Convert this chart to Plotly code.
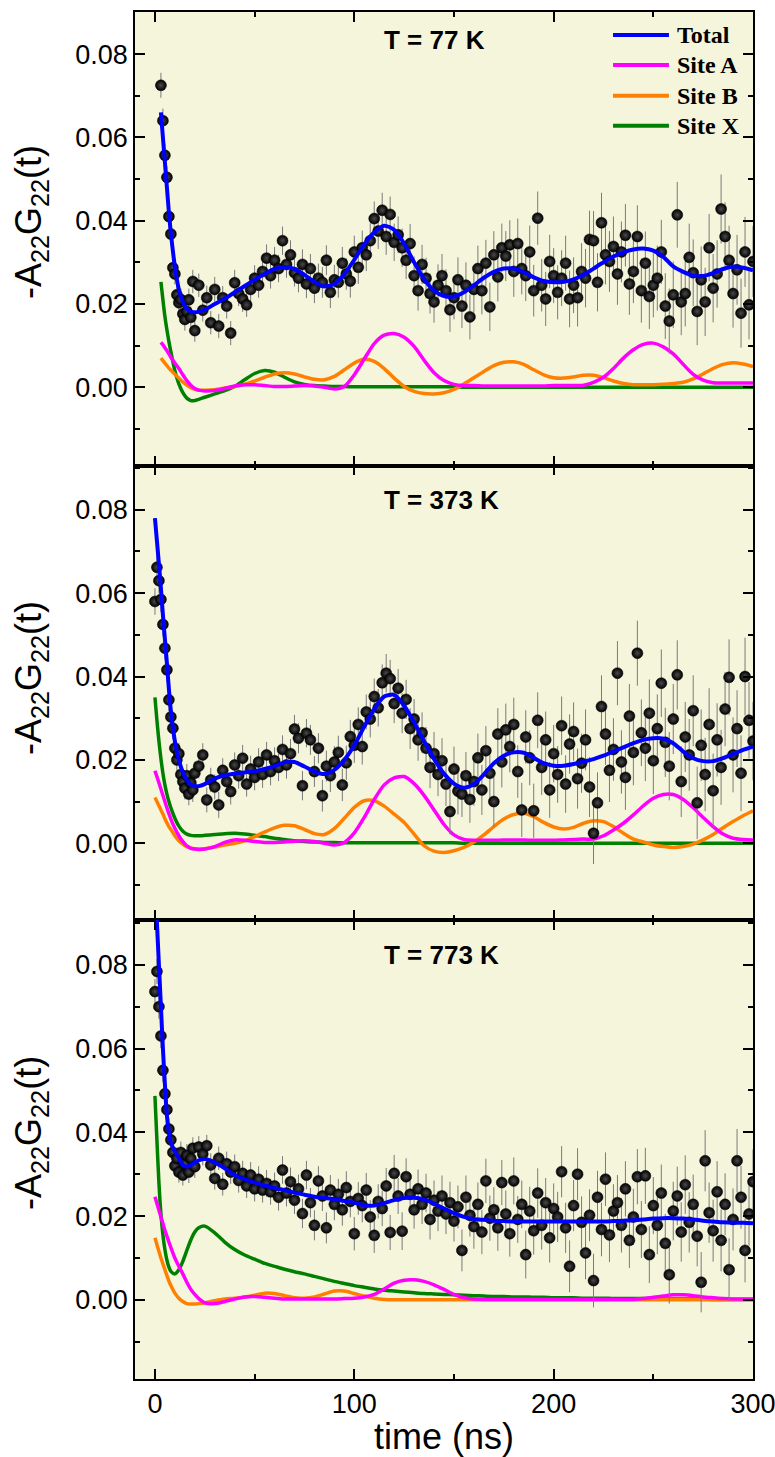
import plotly.graph_objects as go

# ---------------------------------------------------------------------------
# Measurement time grids (ns)
# ---------------------------------------------------------------------------
t_top = list(range(3, 21)) + list(range(22, 301, 2))
t_mid = list(range(0, 21)) + list(range(22, 301, 2))
t_bot = list(range(0, 21)) + list(range(22, 301, 2))

# time grid of the fitted curves (ns)
fit_t = [0, 1, 2, 3, 4, 5, 6, 7, 8, 10, 12, 14, 16, 18, 20, 22, 25] + list(range(30, 301, 5))

# ---------------------------------------------------------------------------
# T = 77 K : measured -A22G22(t) and uncertainties
# ---------------------------------------------------------------------------
y_top = [
    0.0725, 0.0640, 0.0557, 0.0504, 0.0410, 0.0368, 0.0287, 0.0272, 0.0222, 0.0203,
    0.0211, 0.0176, 0.0163, 0.0182, 0.0210, 0.0168, 0.0254, 0.0136,
    0.0245, 0.0185, 0.0215, 0.0155, 0.0235, 0.0147, 0.0215, 0.0195, 0.0130, 0.0251,
    0.0225, 0.0212, 0.0198, 0.0235, 0.0262, 0.0245, 0.0278, 0.0310, 0.0268, 0.0305,
    0.0285, 0.0352, 0.0295, 0.0318, 0.0275, 0.0262, 0.0295, 0.0248, 0.0285, 0.0238,
    0.0262, 0.0252, 0.0305, 0.0228, 0.0258, 0.0252, 0.0298, 0.0272, 0.0255, 0.0325,
    0.0288, 0.0335, 0.0318, 0.0352, 0.0405, 0.0375, 0.0425, 0.0362, 0.0415, 0.0348,
    0.0366, 0.0335, 0.0305, 0.0345, 0.0268, 0.0232, 0.0295, 0.0262, 0.0225, 0.0205,
    0.0245, 0.0268, 0.0232, 0.0186, 0.0215, 0.0258, 0.0195, 0.0245, 0.0169, 0.0235,
    0.0285, 0.0232, 0.0298, 0.0193, 0.0318, 0.0265, 0.0335, 0.0315, 0.0342, 0.0278,
    0.0345, 0.0285, 0.0268, 0.0325, 0.0232, 0.0406, 0.0245, 0.0212, 0.0302, 0.0268,
    0.0228, 0.0262, 0.0298, 0.0212, 0.0245, 0.0215, 0.0278, 0.0262, 0.0355, 0.0352,
    0.0252, 0.0395, 0.0318, 0.0302, 0.0338, 0.0272, 0.0325, 0.0365, 0.0248, 0.0278,
    0.0362, 0.0232, 0.0298, 0.0218, 0.0245, 0.0262, 0.0325, 0.0195, 0.0159, 0.0222,
    0.0414, 0.0205, 0.0225, 0.0312, 0.0275, 0.0182, 0.0258, 0.0205, 0.0335, 0.0238,
    0.0272, 0.0428, 0.0362, 0.0305, 0.0225, 0.0282, 0.0178, 0.0325, 0.0198, 0.0302,
]
e_top = [
    0.0030, 0.0029, 0.0028, 0.0027, 0.0027, 0.0026, 0.0026, 0.0025, 0.0026, 0.0025,
    0.0026, 0.0025, 0.0027, 0.0026, 0.0027, 0.0026, 0.0028, 0.0027,
    0.0028, 0.0027, 0.0029, 0.0028, 0.0030, 0.0029, 0.0028, 0.0030, 0.0029, 0.0031,
    0.0030, 0.0031, 0.0029, 0.0032, 0.0031, 0.0030, 0.0032, 0.0033, 0.0031, 0.0032,
    0.0033, 0.0034, 0.0032, 0.0035, 0.0033, 0.0034, 0.0036, 0.0034, 0.0035, 0.0036,
    0.0035, 0.0037, 0.0036, 0.0038, 0.0036, 0.0037, 0.0039, 0.0038, 0.0040, 0.0039,
    0.0040, 0.0041, 0.0039, 0.0042, 0.0041, 0.0043, 0.0042, 0.0044, 0.0043, 0.0045,
    0.0044, 0.0046, 0.0045, 0.0047, 0.0046, 0.0048, 0.0047, 0.0049, 0.0048, 0.0050,
    0.0050, 0.0052, 0.0051, 0.0053, 0.0052, 0.0054, 0.0053, 0.0055, 0.0054, 0.0056,
    0.0055, 0.0057, 0.0056, 0.0058, 0.0057, 0.0059, 0.0058, 0.0060, 0.0059, 0.0061,
    0.0060, 0.0062, 0.0061, 0.0063, 0.0062, 0.0064, 0.0063, 0.0065, 0.0064, 0.0066,
    0.0065, 0.0067, 0.0066, 0.0068, 0.0067, 0.0069, 0.0068, 0.0070, 0.0069, 0.0071,
    0.0070, 0.0072, 0.0071, 0.0073, 0.0072, 0.0074, 0.0073, 0.0075, 0.0074, 0.0076,
    0.0075, 0.0077, 0.0076, 0.0078, 0.0077, 0.0078, 0.0077, 0.0079, 0.0078, 0.0080,
    0.0079, 0.0080, 0.0079, 0.0081, 0.0080, 0.0081, 0.0080, 0.0082, 0.0081, 0.0082,
    0.0081, 0.0083, 0.0082, 0.0083, 0.0082, 0.0084, 0.0083, 0.0084, 0.0083, 0.0085,
]

# T = 77 K : fitted total and site contributions
fit_top_total = [
    None, None, None, 0.0660, 0.0600, 0.0540, 0.0480, 0.0420, 0.0370, 0.0290,
    0.0235, 0.0205, 0.0189, 0.0182, 0.0180, 0.0181, 0.0186,
    0.0200, 0.0213, 0.0228, 0.0243, 0.0258, 0.0272, 0.0284, 0.0289, 0.0284, 0.0270,
    0.0253, 0.0242, 0.0248, 0.0272, 0.0306, 0.0343, 0.0372, 0.0388, 0.0378, 0.0345,
    0.0300, 0.0260, 0.0232, 0.0219, 0.0218, 0.0228, 0.0245, 0.0263, 0.0277, 0.0285,
    0.0285, 0.0276, 0.0264, 0.0255, 0.0252, 0.0253, 0.0259, 0.0270, 0.0285, 0.0300,
    0.0314, 0.0324, 0.0331, 0.0333, 0.0328, 0.0313, 0.0290, 0.0277, 0.0268, 0.0267,
    0.0274, 0.0284, 0.0290, 0.0287, 0.0281,
]
fit_top_a = [
    None, None, None, 0.0108, 0.0102, 0.0095, 0.0088, 0.0080, 0.0072, 0.0058,
    0.0045, 0.0030, 0.0016, 0.0005, -0.0003, -0.0007, -0.0009,
    -0.0008, -0.0003, 0.0003, 0.0006, 0.0006, 0.0004, 0.0002, 0.0002, 0.0003, 0.0004,
    0.0003, 0.0000, -0.0004, 0.0002, 0.0030, 0.0068, 0.0105, 0.0125, 0.0129, 0.0120,
    0.0098, 0.0065, 0.0035, 0.0016, 0.0007, 0.0004, 0.0004, 0.0003, 0.0003, 0.0003,
    0.0003, 0.0003, 0.0003, 0.0003, 0.0004, 0.0004, 0.0004, 0.0005, 0.0012, 0.0024,
    0.0045, 0.0070, 0.0090, 0.0103, 0.0106, 0.0097, 0.0080, 0.0055, 0.0031, 0.0017,
    0.0011, 0.0010, 0.0010, 0.0010, 0.0010,
]
fit_top_b = [
    None, None, None, 0.0070, 0.0064, 0.0058, 0.0052, 0.0046, 0.0041, 0.0031,
    0.0022, 0.0013, 0.0005, -0.0001, -0.0005, -0.0007, -0.0007,
    -0.0006, -0.0002, 0.0002, 0.0007, 0.0015, 0.0024, 0.0032, 0.0035, 0.0032, 0.0025,
    0.0019, 0.0018, 0.0026, 0.0042, 0.0058, 0.0067, 0.0062, 0.0045, 0.0022, 0.0002,
    -0.0010, -0.0015, -0.0016, -0.0013, -0.0005, 0.0008, 0.0023, 0.0038, 0.0052, 0.0060,
    0.0061, 0.0055, 0.0042, 0.0030, 0.0023, 0.0022, 0.0025, 0.0029, 0.0029, 0.0023,
    0.0015, 0.0009, 0.0006, 0.0006, 0.0006, 0.0007, 0.0009, 0.0012, 0.0020, 0.0032,
    0.0045, 0.0055, 0.0059, 0.0056, 0.0050,
]
fit_top_x = [
    None, None, None, 0.0253, 0.0210, 0.0170, 0.0138, 0.0110, 0.0085, 0.0040,
    0.0008, -0.0013, -0.0026, -0.0032, -0.0032, -0.0029, -0.0024,
    -0.0016, -0.0008, 0.0002, 0.0018, 0.0033, 0.0040, 0.0036, 0.0024, 0.0013, 0.0007,
    0.0004, 0.0003, 0.0002, 0.0002, 0.0001, 0.0001, 0.0001, 0.0001, 0.0001, 0.0001,
    0.0001, 0.0001, 0.0001, 0.0001, 0.0001, 0.0000, 0.0000, 0.0000, 0.0000, 0.0000,
    0.0000, 0.0000, 0.0000, 0.0000, 0.0000, 0.0000, 0.0000, 0.0000, 0.0000, 0.0000,
    0.0000, 0.0000, 0.0000, 0.0000, 0.0000, 0.0000, 0.0000, 0.0000, 0.0000, 0.0000,
    0.0000, 0.0000, 0.0000, 0.0000, 0.0000,
]

# ---------------------------------------------------------------------------
# T = 373 K
# ---------------------------------------------------------------------------
y_mid = [
    0.0580, 0.0662, 0.0630, 0.0585, 0.0525, 0.0468, 0.0416, 0.0344, 0.0303, 0.0276,
    0.0228, 0.0200, 0.0215, 0.0165, 0.0148, 0.0132, 0.0162, 0.0118, 0.0145, 0.0128,
    0.0168,
    0.0185, 0.0212, 0.0104, 0.0152, 0.0135, 0.0092, 0.0175, 0.0148, 0.0124, 0.0188,
    0.0162, 0.0204, 0.0142, 0.0178, 0.0158, 0.0195, 0.0165, 0.0212, 0.0172, 0.0198,
    0.0182, 0.0225, 0.0188, 0.0215, 0.0274, 0.0252, 0.0138, 0.0264, 0.0248, 0.0172,
    0.0228, 0.0114, 0.0185, 0.0162, 0.0195, 0.0218, 0.0140, 0.0193, 0.0256, 0.0235,
    0.0285, 0.0232, 0.0315, 0.0298, 0.0352, 0.0325, 0.0385, 0.0408, 0.0395, 0.0335,
    0.0372, 0.0312, 0.0345, 0.0275, 0.0298, 0.0248, 0.0265, 0.0228, 0.0182, 0.0215,
    0.0165, 0.0198, 0.0142, 0.0076, 0.0178, 0.0125, 0.0118, 0.0162, 0.0105, 0.0148,
    0.0205, 0.0128, 0.0222, 0.0168, 0.0100, 0.0262, 0.0195, 0.0272, 0.0232, 0.0285,
    0.0172, 0.0080, 0.0255, 0.0205, 0.0078, 0.0295, 0.0182, 0.0248, 0.0128, 0.0215,
    0.0165, 0.0282, 0.0142, 0.0238, 0.0268, 0.0155, 0.0192, 0.0248, 0.0135, 0.0024,
    0.0097, 0.0328, 0.0262, 0.0175, 0.0225, 0.0408, 0.0195, 0.0158, 0.0305, 0.0218,
    0.0456, 0.0265, 0.0228, 0.0312, 0.0198, 0.0275, 0.0384, 0.0242, 0.0185, 0.0298,
    0.0404, 0.0148, 0.0255, 0.0212, 0.0318, 0.0097, 0.0235, 0.0165, 0.0285, 0.0126,
    0.0248, 0.0182, 0.0322, 0.0398, 0.0212, 0.0275, 0.0168, 0.0400, 0.0295, 0.0245,
]
e_mid = [
    0.0032, 0.0031, 0.0030, 0.0030, 0.0029, 0.0028, 0.0028, 0.0027, 0.0027, 0.0026,
    0.0026, 0.0027, 0.0026, 0.0027, 0.0028, 0.0027, 0.0028, 0.0027, 0.0028, 0.0029,
    0.0028,
    0.0029, 0.0028, 0.0030, 0.0029, 0.0030, 0.0031, 0.0029, 0.0030, 0.0031, 0.0030,
    0.0031, 0.0032, 0.0030, 0.0032, 0.0031, 0.0033, 0.0032, 0.0031, 0.0033, 0.0032,
    0.0033, 0.0034, 0.0033, 0.0035, 0.0034, 0.0036, 0.0035, 0.0034, 0.0036, 0.0037,
    0.0036, 0.0038, 0.0037, 0.0039, 0.0038, 0.0040, 0.0039, 0.0041, 0.0040, 0.0042,
    0.0041, 0.0043, 0.0042, 0.0044, 0.0043, 0.0045, 0.0044, 0.0046, 0.0045, 0.0047,
    0.0046, 0.0048, 0.0047, 0.0049, 0.0048, 0.0050, 0.0049, 0.0051, 0.0050, 0.0052,
    0.0052, 0.0054, 0.0053, 0.0055, 0.0054, 0.0056, 0.0055, 0.0057, 0.0056, 0.0058,
    0.0058, 0.0060, 0.0059, 0.0061, 0.0060, 0.0062, 0.0061, 0.0063, 0.0062, 0.0064,
    0.0063, 0.0065, 0.0064, 0.0066, 0.0065, 0.0067, 0.0066, 0.0068, 0.0067, 0.0069,
    0.0068, 0.0070, 0.0069, 0.0071, 0.0070, 0.0072, 0.0071, 0.0073, 0.0072, 0.0074,
    0.0073, 0.0075, 0.0074, 0.0076, 0.0075, 0.0077, 0.0076, 0.0078, 0.0077, 0.0079,
    0.0078, 0.0080, 0.0079, 0.0081, 0.0080, 0.0082, 0.0081, 0.0083, 0.0082, 0.0084,
    0.0083, 0.0085, 0.0084, 0.0086, 0.0085, 0.0087, 0.0086, 0.0088, 0.0087, 0.0089,
    0.0088, 0.0090, 0.0089, 0.0091, 0.0090, 0.0092, 0.0091, 0.0093, 0.0092, 0.0094,
]

fit_mid_total = [
    0.0780, 0.0725, 0.0670, 0.0612, 0.0548, 0.0490, 0.0432, 0.0370, 0.0318, 0.0245,
    0.0200, 0.0170, 0.0152, 0.0141, 0.0137, 0.0137, 0.0142,
    0.0155, 0.0163, 0.0167, 0.0170, 0.0173, 0.0178, 0.0185, 0.0194, 0.0195, 0.0184,
    0.0172, 0.0166, 0.0176, 0.0200, 0.0235, 0.0280, 0.0322, 0.0352, 0.0356, 0.0330,
    0.0290, 0.0245, 0.0202, 0.0167, 0.0143, 0.0133, 0.0142, 0.0165, 0.0192, 0.0210,
    0.0218, 0.0217, 0.0205, 0.0192, 0.0186, 0.0186, 0.0190, 0.0196, 0.0202, 0.0210,
    0.0220, 0.0230, 0.0240, 0.0248, 0.0252, 0.0251, 0.0240, 0.0220, 0.0204, 0.0197,
    0.0197, 0.0204, 0.0214, 0.0224, 0.0232,
]
fit_mid_a = [
    0.0174, 0.0160, 0.0145, 0.0130, 0.0115, 0.0100, 0.0085, 0.0071, 0.0058, 0.0036,
    0.0018, 0.0004, -0.0006, -0.0012, -0.0014, -0.0015, -0.0014,
    -0.0008, 0.0002, 0.0008, 0.0007, 0.0004, 0.0002, 0.0002, 0.0003, 0.0005, 0.0006,
    0.0004, 0.0000, -0.0004, 0.0002, 0.0025, 0.0062, 0.0105, 0.0140, 0.0157, 0.0160,
    0.0143, 0.0115, 0.0080, 0.0045, 0.0020, 0.0009, 0.0007, 0.0007, 0.0007, 0.0008,
    0.0008, 0.0008, 0.0007, 0.0007, 0.0007, 0.0008, 0.0009, 0.0010, 0.0010, 0.0018,
    0.0032, 0.0048, 0.0068, 0.0090, 0.0108, 0.0117, 0.0117, 0.0105, 0.0085, 0.0062,
    0.0040, 0.0022, 0.0012, 0.0009, 0.0008,
]
fit_mid_b = [
    0.0110, 0.0100, 0.0090, 0.0080, 0.0070, 0.0059, 0.0049, 0.0040, 0.0033, 0.0018,
    0.0006, -0.0002, -0.0008, -0.0011, -0.0013, -0.0014, -0.0013,
    -0.0009, -0.0004, 0.0000, 0.0006, 0.0016, 0.0027, 0.0037, 0.0043, 0.0042, 0.0033,
    0.0023, 0.0021, 0.0035, 0.0060, 0.0086, 0.0102, 0.0102, 0.0089, 0.0070, 0.0050,
    0.0022, -0.0006, -0.0019, -0.0022, -0.0018, -0.0010, 0.0003, 0.0020, 0.0040, 0.0058,
    0.0069, 0.0072, 0.0064, 0.0050, 0.0039, 0.0034, 0.0038, 0.0048, 0.0054, 0.0052,
    0.0040, 0.0024, 0.0010, 0.0003, -0.0004, -0.0008, -0.0010, -0.0008, -0.0002, 0.0008,
    0.0021, 0.0037, 0.0052, 0.0066, 0.0078,
]
fit_mid_x = [
    0.0350, 0.0295, 0.0245, 0.0203, 0.0168, 0.0140, 0.0118, 0.0100, 0.0085, 0.0060,
    0.0041, 0.0029, 0.0022, 0.0019, 0.0018, 0.0018, 0.0019,
    0.0021, 0.0023, 0.0024, 0.0022, 0.0019, 0.0016, 0.0012, 0.0009, 0.0006, 0.0004,
    0.0003, 0.0002, 0.0002, 0.0001, 0.0001, 0.0001, 0.0001, 0.0001, 0.0001, 0.0001,
    0.0001, 0.0001, 0.0001, 0.0001, 0.0001, 0.0000, 0.0000, 0.0000, 0.0000, 0.0000,
    0.0000, 0.0000, 0.0000, 0.0000, 0.0000, 0.0000, 0.0000, 0.0000, 0.0000, 0.0000,
    0.0000, 0.0000, 0.0000, 0.0000, 0.0000, 0.0000, 0.0000, 0.0000, 0.0000, 0.0000,
    0.0000, 0.0000, 0.0000, 0.0000, 0.0000,
]

# ---------------------------------------------------------------------------
# T = 773 K
# ---------------------------------------------------------------------------
y_bot = [
    0.0736, 0.0784, 0.0700, 0.0630, 0.0548, 0.0492, 0.0454, 0.0408, 0.0382, 0.0352,
    0.0320, 0.0338, 0.0305, 0.0352, 0.0298, 0.0325, 0.0345, 0.0305, 0.0338, 0.0362,
    0.0318,
    0.0365, 0.0348, 0.0368, 0.0322, 0.0290, 0.0338, 0.0276, 0.0325, 0.0305, 0.0318,
    0.0285, 0.0302, 0.0272, 0.0298, 0.0265, 0.0288, 0.0262, 0.0278, 0.0258, 0.0272,
    0.0245, 0.0310, 0.0255, 0.0282, 0.0238, 0.0265, 0.0206, 0.0298, 0.0232, 0.0178,
    0.0284, 0.0248, 0.0172, 0.0262, 0.0228, 0.0252, 0.0215, 0.0268, 0.0235, 0.0158,
    0.0242, 0.0225, 0.0262, 0.0198, 0.0154, 0.0235, 0.0218, 0.0272, 0.0161, 0.0302,
    0.0248, 0.0164, 0.0294, 0.0252, 0.0215, 0.0265, 0.0228, 0.0255, 0.0192, 0.0238,
    0.0212, 0.0248, 0.0205, 0.0232, 0.0188, 0.0222, 0.0118, 0.0245, 0.0202, 0.0175,
    0.0228, 0.0162, 0.0284, 0.0195, 0.0215, 0.0172, 0.0280, 0.0205, 0.0158, 0.0284,
    0.0192, 0.0228, 0.0108, 0.0212, 0.0165, 0.0255, 0.0178, 0.0232, 0.0148, 0.0218,
    0.0198, 0.0306, 0.0172, 0.0080, 0.0225, 0.0300, 0.0185, 0.0112, 0.0202, 0.0046,
    0.0245, 0.0168, 0.0288, 0.0155, 0.0212, 0.0232, 0.0178, 0.0265, 0.0142, 0.0198,
    0.0294, 0.0168, 0.0296, 0.0108, 0.0225, 0.0178, 0.0255, 0.0135, 0.0060, 0.0212,
    0.0248, 0.0162, 0.0275, 0.0185, 0.0228, 0.0152, 0.0042, 0.0332, 0.0208, 0.0165,
    0.0258, 0.0142, 0.0228, 0.0072, 0.0192, 0.0332, 0.0245, 0.0118, 0.0205, 0.0282,
]
e_bot = [
    0.0030, 0.0030, 0.0029, 0.0029, 0.0028, 0.0027, 0.0027, 0.0026, 0.0026, 0.0025,
    0.0025, 0.0026, 0.0025, 0.0026, 0.0025, 0.0026, 0.0027, 0.0026, 0.0027, 0.0026,
    0.0027,
    0.0026, 0.0027, 0.0026, 0.0028, 0.0027, 0.0028, 0.0027, 0.0029, 0.0028, 0.0029,
    0.0029, 0.0030, 0.0029, 0.0031, 0.0030, 0.0031, 0.0030, 0.0032, 0.0031, 0.0032,
    0.0032, 0.0033, 0.0032, 0.0034, 0.0033, 0.0034, 0.0035, 0.0034, 0.0035, 0.0036,
    0.0035, 0.0036, 0.0037, 0.0036, 0.0038, 0.0037, 0.0038, 0.0039, 0.0038, 0.0040,
    0.0039, 0.0040, 0.0041, 0.0040, 0.0042, 0.0041, 0.0042, 0.0043, 0.0042, 0.0044,
    0.0043, 0.0045, 0.0044, 0.0046, 0.0045, 0.0046, 0.0047, 0.0046, 0.0048, 0.0047,
    0.0048, 0.0049, 0.0048, 0.0050, 0.0049, 0.0051, 0.0050, 0.0052, 0.0051, 0.0053,
    0.0052, 0.0053, 0.0053, 0.0054, 0.0054, 0.0055, 0.0054, 0.0056, 0.0055, 0.0056,
    0.0056, 0.0057, 0.0057, 0.0058, 0.0057, 0.0059, 0.0058, 0.0059, 0.0059, 0.0060,
    0.0060, 0.0061, 0.0060, 0.0062, 0.0061, 0.0062, 0.0062, 0.0063, 0.0062, 0.0064,
    0.0063, 0.0064, 0.0064, 0.0065, 0.0064, 0.0066, 0.0065, 0.0066, 0.0066, 0.0067,
    0.0066, 0.0068, 0.0067, 0.0068, 0.0068, 0.0069, 0.0068, 0.0070, 0.0069, 0.0070,
    0.0070, 0.0071, 0.0070, 0.0072, 0.0071, 0.0072, 0.0072, 0.0073, 0.0072, 0.0074,
    0.0073, 0.0074, 0.0074, 0.0075, 0.0074, 0.0076, 0.0075, 0.0076, 0.0076, 0.0077,
]

fit_bot_total = [
    0.1000, 0.0900, 0.0800, 0.0700, 0.0600, 0.0515, 0.0440, 0.0400, 0.0375, 0.0355,
    0.0338, 0.0322, 0.0318, 0.0322, 0.0328, 0.0333, 0.0336,
    0.0328, 0.0314, 0.0298, 0.0288, 0.0280, 0.0273, 0.0267, 0.0262, 0.0256, 0.0251,
    0.0246, 0.0243, 0.0240, 0.0236, 0.0232, 0.0226, 0.0225, 0.0231, 0.0238, 0.0243,
    0.0244, 0.0240, 0.0230, 0.0218, 0.0207, 0.0198, 0.0193, 0.0191, 0.0189, 0.0188,
    0.0187, 0.0187, 0.0187, 0.0187, 0.0187, 0.0187, 0.0187, 0.0187, 0.0187, 0.0187,
    0.0188, 0.0189, 0.0190, 0.0192, 0.0194, 0.0195, 0.0195, 0.0194, 0.0192, 0.0189,
    0.0187, 0.0185, 0.0184, 0.0184, 0.0183,
]
fit_bot_a = [
    0.0246, 0.0230, 0.0214, 0.0198, 0.0182, 0.0166, 0.0152, 0.0138, 0.0125, 0.0100,
    0.0080, 0.0062, 0.0042, 0.0025, 0.0013, 0.0003, -0.0007,
    -0.0009, -0.0004, 0.0002, 0.0007, 0.0008, 0.0006, 0.0004, 0.0002, 0.0002, 0.0002,
    0.0002, 0.0002, 0.0002, 0.0003, 0.0004, 0.0007, 0.0013, 0.0026, 0.0040, 0.0047,
    0.0048, 0.0044, 0.0036, 0.0025, 0.0013, 0.0005, 0.0002, 0.0001, 0.0001, 0.0001,
    0.0001, 0.0001, 0.0001, 0.0001, 0.0001, 0.0001, 0.0001, 0.0001, 0.0001, 0.0001,
    0.0001, 0.0001, 0.0001, 0.0003, 0.0006, 0.0009, 0.0012, 0.0012, 0.0010, 0.0007,
    0.0005, 0.0003, 0.0002, 0.0002, 0.0002,
]
fit_bot_b = [
    0.0148, 0.0132, 0.0116, 0.0100, 0.0086, 0.0072, 0.0058, 0.0045, 0.0034, 0.0016,
    0.0004, -0.0004, -0.0009, -0.0010, -0.0010, -0.0009, -0.0007,
    -0.0002, 0.0002, 0.0004, 0.0007, 0.0011, 0.0016, 0.0015, 0.0010, 0.0005, 0.0004,
    0.0007, 0.0014, 0.0021, 0.0021, 0.0015, 0.0009, 0.0004, 0.0001, 0.0000, 0.0000,
    0.0000, 0.0000, 0.0000, 0.0000, 0.0000, 0.0000, 0.0000, 0.0000, 0.0000, 0.0000,
    0.0000, 0.0000, 0.0000, 0.0000, 0.0000, 0.0000, 0.0000, 0.0000, 0.0000, 0.0000,
    0.0000, 0.0000, 0.0000, 0.0000, 0.0000, 0.0000, 0.0000, 0.0000, 0.0000, 0.0000,
    0.0000, 0.0000, 0.0000, 0.0000, 0.0000,
]
fit_bot_x = [
    0.0487, 0.0380, 0.0280, 0.0205, 0.0155, 0.0120, 0.0095, 0.0078, 0.0068, 0.0062,
    0.0072, 0.0092, 0.0118, 0.0143, 0.0162, 0.0172, 0.0176,
    0.0160, 0.0138, 0.0120, 0.0107, 0.0097, 0.0087, 0.0080, 0.0073, 0.0067, 0.0062,
    0.0056, 0.0050, 0.0044, 0.0039, 0.0034, 0.0030, 0.0026, 0.0023, 0.0021, 0.0019,
    0.0017, 0.0015, 0.0014, 0.0013, 0.0012, 0.0011, 0.0010, 0.0009, 0.0008, 0.0008,
    0.0007, 0.0007, 0.0006, 0.0006, 0.0005, 0.0005, 0.0005, 0.0004, 0.0004, 0.0004,
    0.0003, 0.0003, 0.0003, 0.0003, 0.0003, 0.0002, 0.0002, 0.0002, 0.0002, 0.0002,
    0.0001, 0.0001, 0.0001, 0.0001, 0.0001,
]

temperatures = ["T = 77 K", "T = 373 K", "T = 773 K"]
site_names = ["Total", "Site A", "Site B", "Site X"]
site_colors = ["#0000FF", "#FF00FF", "#FF8000", "#008000"]
y_label = "-A<sub>22</sub>G<sub>22</sub>(t)"
x_label = "time (ns)"

panels = [
    (t_top, y_top, e_top, [fit_top_total, fit_top_a, fit_top_b, fit_top_x]),
    (t_mid, y_mid, e_mid, [fit_mid_total, fit_mid_a, fit_mid_b, fit_mid_x]),
    (t_bot, y_bot, e_bot, [fit_bot_total, fit_bot_a, fit_bot_b, fit_bot_x]),
]
for tt, yy, ee, fits in panels:
    assert len(tt) == len(yy) == len(ee), (len(tt), len(yy), len(ee))
    for f in fits:
        assert len(f) == len(fit_t), len(f)

# ---------------------------------------------------------------------------
# Figure
# ---------------------------------------------------------------------------
fig = go.Figure()

y_domains = [[0.6682, 1.0], [0.3358, 0.6682], [0.0, 0.3358]]
y_ranges = [[-0.0188, 0.0901], [-0.0184, 0.0906], [-0.0189, 0.0907]]

for i, (tt, yy, ee, fits) in enumerate(panels):
    n = i + 1
    xa = "x" if n == 1 else f"x{n}"
    ya = "y" if n == 1 else f"y{n}"
    # site contributions first (underneath), then data, then total fit on top
    for k in (3, 2, 1):
        fig.add_trace(go.Scatter(
            x=fit_t, y=fits[k], mode="lines", xaxis=xa, yaxis=ya,
            line=dict(color=site_colors[k], width=3.5, shape="spline", smoothing=0.7),
            connectgaps=False, hoverinfo="skip", showlegend=False,
        ))
    fig.add_trace(go.Scatter(
        x=tt, y=yy, mode="markers", xaxis=xa, yaxis=ya,
        error_y=dict(type="data", array=ee, visible=True, color="#7a7a7a",
                     thickness=1, width=0),
        marker=dict(size=11, color="#000000",
                    gradient=dict(type="radial", color="#4a4a4a"),
                    line=dict(width=0.5, color="#000000")),
        showlegend=False,
    ))
    fig.add_trace(go.Scatter(
        x=fit_t, y=fits[0], mode="lines", xaxis=xa, yaxis=ya,
        line=dict(color=site_colors[0], width=4, shape="spline", smoothing=0.7),
        hoverinfo="skip", showlegend=False,
    ))

tick_font = dict(family="Liberation Sans, Arial, sans-serif", size=27, color="black")
title_font = dict(family="Liberation Sans, Arial, sans-serif", size=36, color="black")

axis_common = dict(
    showline=True, linewidth=1.6, linecolor="black", mirror="allticks",
    ticks="inside", ticklen=10, tickwidth=1.5, tickcolor="black",
    showgrid=False, zeroline=False, tickfont=tick_font, automargin=False,
    ticklabeloverflow="allow",
)

layout = dict(
    width=775, height=1457,
    margin=dict(l=135, r=22, t=12, b=78, autoexpand=False),
    plot_bgcolor="#F5F5DC", paper_bgcolor="white",
    showlegend=False,
)
for i in range(3):
    n = i + 1
    xkey = "xaxis" if n == 1 else f"xaxis{n}"
    ykey = "yaxis" if n == 1 else f"yaxis{n}"
    xname = "x" if n == 1 else f"x{n}"
    yname = "y" if n == 1 else f"y{n}"
    layout[xkey] = dict(
        axis_common, anchor=yname, domain=[0, 1], range=[-10, 300],
        tick0=0, dtick=100,
        minor=dict(ticks="inside", ticklen=5, tickwidth=1.5, tickcolor="black", dtick=50, tick0=0),
        showticklabels=(n == 3),
    )
    if n == 3:
        layout[xkey]["title"] = dict(text=x_label, font=title_font, standoff=2)
    else:
        layout[xkey]["matches"] = "x3"
    layout[ykey] = dict(
        axis_common, anchor=xname, domain=y_domains[i], range=y_ranges[i],
        tick0=0, dtick=0.02, tickformat=".2f",
        minor=dict(ticks="inside", ticklen=5, tickwidth=1.5, tickcolor="black", dtick=0.01, tick0=0),
    )

fig.update_layout(**layout)

# y-axis titles, one per panel
y_title_pos = [0.8464, 0.5128, 0.1800]
for yp in y_title_pos:
    fig.add_annotation(
        x=-0.1683, y=yp, xref="paper", yref="paper", xanchor="center", yanchor="middle",
        text=y_label, textangle=-90, showarrow=False, font=title_font,
    )

# panel labels
label_y = [0.9795, 0.643, 0.3102]
for txt, yp in zip(temperatures, label_y):
    fig.add_annotation(
        x=0.3997, y=yp, xref="paper", yref="paper", xanchor="left", yanchor="middle",
        text=f"<b>{txt}</b>", showarrow=False,
        font=dict(family="Liberation Sans, Arial, sans-serif", size=26, color="black"),
    )

# legend drawn in the top panel
leg_y = [0.9832, 0.9612, 0.9388, 0.9168]
for name, col, yp in zip(site_names, site_colors, leg_y):
    fig.add_shape(type="line", xref="paper", yref="paper",
                  x0=0.7735, x1=0.864, y0=yp, y1=yp,
                  line=dict(color=col, width=4))
    fig.add_annotation(
        x=0.8738, y=yp, xref="paper", yref="paper", xanchor="left", yanchor="middle",
        text=f"<b>{name}</b>", showarrow=False,
        font=dict(family="Liberation Serif, Times New Roman, serif", size=24, color="black"),
    )

fig.write_html("out.html")
